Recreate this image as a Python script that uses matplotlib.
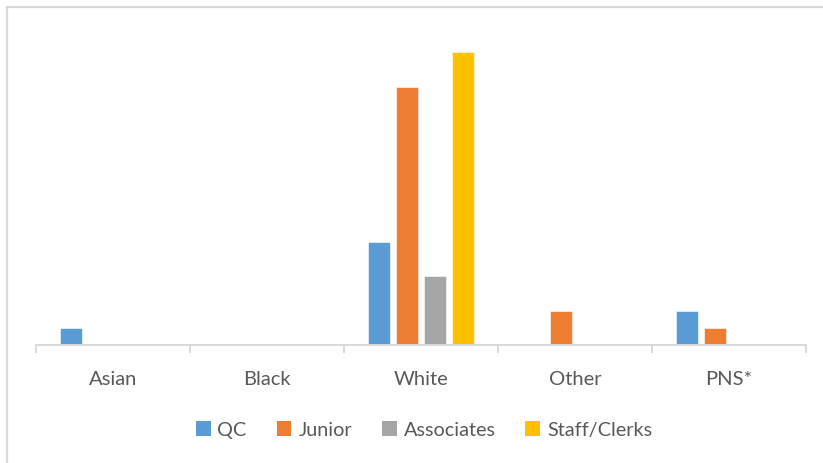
import matplotlib.pyplot as plt
from matplotlib.patches import Rectangle, Patch
import numpy as np

# Data
categories = ["Asian", "Black", "White", "Other", "PNS*"]
series_names = ["QC", "Junior", "Associates", "Staff/Clerks"]
qc = [1, 0, 6, 0, 2]
junior = [0, 0, 15, 2, 1]
associates = [0, 0, 4, 0, 0]
staff = [0, 0, 17, 0, 0]
colors = ["#5B9BD5", "#ED7D31", "#A5A5A5", "#FFC000"]

W, H = 823, 463
fig = plt.figure(figsize=(W / 100, H / 100), dpi=100)
plt.rcParams['font.family'] = ['Lato', 'DejaVu Sans']

# plot area in pixel coords
x0, x1, ybase, ytop = 36, 806, 345, 35
ax = fig.add_axes([x0 / W, (H - ybase) / H, (x1 - x0) / W, (ybase - ytop) / H])

x = np.arange(len(categories))
slot = 28 / 154
bw = 22 / 154
all_series = [qc, junior, associates, staff]
for i, (vals, col) in enumerate(zip(all_series, colors)):
    offs = (i - 1.5) * slot
    ax.bar(x + offs, vals, width=bw, color=col, edgecolor="white", linewidth=0.4)

ax.set_xlim(-0.5, len(categories) - 0.5)
ax.set_ylim(0, 18)
ax.set_yticks([])
for s in ["top", "right", "left"]:
    ax.spines[s].set_visible(False)
ax.spines["bottom"].set_color("#D9D9D9")
ax.spines["bottom"].set_linewidth(1.4)

ax.set_xticks(x)
ax.set_xticklabels(categories, fontsize=14.5, color="#595959")
ax.tick_params(axis="x", which="major", length=0, pad=19)
ax.set_xticks(np.arange(-0.5, len(categories)), minor=True)
ax.tick_params(axis="x", which="minor", length=6, width=1.4, color="#D9D9D9")

handles = [Patch(facecolor=c, edgecolor="none") for c in colors]
fig.legend(handles, series_names, loc="center", bbox_to_anchor=(424 / W, (H - 430) / H),
           ncol=4, frameon=False, fontsize=14.3, labelcolor="#595959",
           handlelength=0.75, handleheight=0.75, handletextpad=0.35, columnspacing=1.5)

# chart area border (partly cut off at right and bottom)
fig.patches.append(Rectangle((6.5 / W, -0.1), 1.2, (H - 6.5) / H + 0.1, transform=fig.transFigure,
                             fill=False, edgecolor="#D9D9D9", linewidth=1.6))

fig.savefig("out.png", dpi=100)
